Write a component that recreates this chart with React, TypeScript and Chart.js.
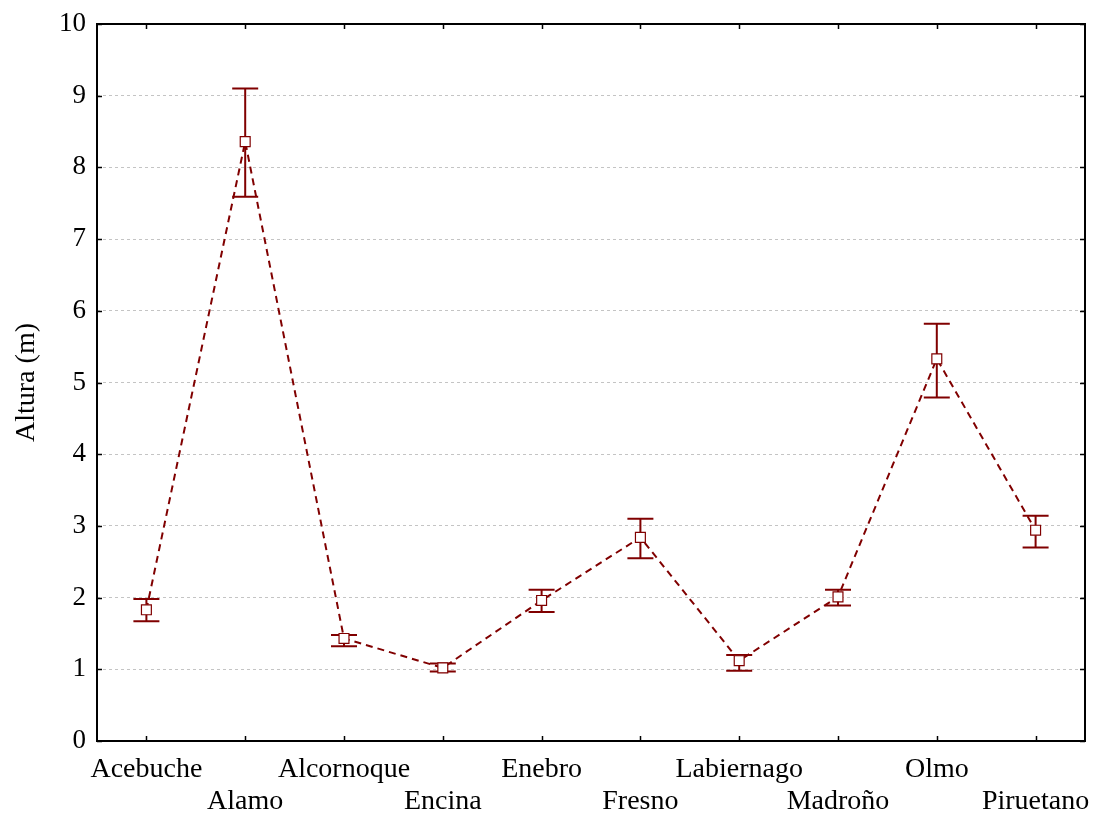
import React, { useEffect, useRef } from "react";
import { Chart, registerables } from "chart.js";

Chart.register(...registerables);

const categories = ["Acebuche", "Alamo", "Alcornoque", "Encina", "Enebro", "Fresno", "Labiernago", "Madroño", "Olmo", "Piruetano"];
const means = [1.83, 8.36, 1.43, 1.02, 1.96, 2.84, 1.12, 2.01, 5.33, 2.94];
const upper = [1.98, 9.10, 1.48, 1.08, 2.11, 3.10, 1.20, 2.11, 5.82, 3.14];
const lower = [1.67, 7.59, 1.32, 0.97, 1.80, 2.55, 0.98, 1.89, 4.79, 2.70];
const yTicks = [0, 1, 2, 3, 4, 5, 6, 7, 8, 9, 10];

const DARK_RED = "#800000";
const FONT = "'Liberation Serif', 'Times New Roman', serif";

const errorBarPlugin = {
  id: "errorBars",
  beforeDatasetsDraw(chart: any) {
    const { ctx, scales } = chart;
    const x = scales.x;
    const y = scales.y;
    ctx.save();
    ctx.strokeStyle = DARK_RED;
    ctx.lineWidth = 2;
    ctx.setLineDash([]);
    for (let i = 0; i < categories.length; i++) {
      const px = x.getPixelForValue(i);
      const pu = y.getPixelForValue(upper[i]);
      const pl = y.getPixelForValue(lower[i]);
      ctx.beginPath();
      ctx.moveTo(px, pu);
      ctx.lineTo(px, pl);
      ctx.moveTo(px - 13, pu);
      ctx.lineTo(px + 13, pu);
      ctx.moveTo(px - 13, pl);
      ctx.lineTo(px + 13, pl);
      ctx.stroke();
    }
    ctx.restore();
  },
};

const framePlugin = {
  id: "frame",
  afterDraw(chart: any) {
    const { ctx, chartArea, scales } = chart;
    const { left, right, top, bottom } = chartArea;
    ctx.save();
    ctx.strokeStyle = "#000";
    ctx.lineWidth = 2;
    ctx.setLineDash([]);
    ctx.strokeRect(left, top, right - left, bottom - top);
    ctx.lineWidth = 1.5;
    ctx.beginPath();
    for (let i = 0; i < categories.length; i++) {
      const px = Math.round(scales.x.getPixelForValue(i)) + 0.5;
      ctx.moveTo(px, bottom);
      ctx.lineTo(px, bottom - 5);
      ctx.moveTo(px, top);
      ctx.lineTo(px, top + 5);
    }
    for (const v of yTicks) {
      const py = Math.round(scales.y.getPixelForValue(v)) + 0.5;
      ctx.moveTo(right, py);
      ctx.lineTo(right - 5, py);
      ctx.moveTo(left, py);
      ctx.lineTo(left + 5, py);
    }
    ctx.stroke();
    ctx.restore();
  },
};

export default function App() {
  const ref = useRef<HTMLCanvasElement | null>(null);

  useEffect(() => {
    document.body.style.margin = "0";
    const canvas = ref.current;
    if (!canvas) return;
    const labels = categories.map((c, i) => (i % 2 === 0 ? [c, ""] : ["", c]));
    const chart = new Chart(canvas, {
      type: "line",
      data: {
        labels,
        datasets: [
          {
            data: means,
            borderColor: DARK_RED,
            borderWidth: 2,
            borderDash: [7, 5],
            tension: 0,
            fill: false,
            pointStyle: "rect",
            pointRadius: 7,
            pointHoverRadius: 7,
            pointBackgroundColor: "#fff",
            pointBorderColor: DARK_RED,
            pointBorderWidth: 1.2,
          },
        ],
      },
      options: {
        animation: false,
        responsive: false,
        maintainAspectRatio: false,
        layout: { padding: { top: 24, right: 9, left: 0, bottom: 0 } },
        plugins: {
          legend: { display: false },
          tooltip: { enabled: false },
        },
        scales: {
          x: {
            type: "category",
            offset: true,
            grid: { display: false, drawTicks: false },
            border: { display: false },
            ticks: {
              color: "#000",
              font: { family: FONT, size: 28, lineHeight: 1.13 },
              padding: 13,
              maxRotation: 0,
              minRotation: 0,
              autoSkip: false,
            },
            afterFit: (s: any) => {
              s.height = 75;
              s.paddingLeft = 0;
              s.paddingRight = 0;
            },
          },
          y: {
            type: "linear",
            min: 0,
            max: 10,
            grid: { color: "#c4c4c4", lineWidth: 1, drawTicks: false },
            border: { display: false, dash: [3, 3] },
            ticks: {
              stepSize: 1,
              color: "#000",
              font: { family: FONT, size: 27 },
              padding: 11,
            },
            title: {
              display: true,
              text: "Altura (m)",
              color: "#000",
              font: { family: FONT, size: 28, lineHeight: 1.2 },
              padding: { top: 10, bottom: 0 },
            },
            afterFit: (s: any) => {
              s.width = 97;
              s.paddingTop = 0;
              s.paddingBottom = 0;
            },
          },
        },
      },
      plugins: [errorBarPlugin, framePlugin],
    });
    return () => chart.destroy();
  }, []);

  return (
    <div style={{ position: "fixed", left: 0, top: 0, width: 1094, height: 816, background: "#fff" }}>
      <canvas ref={ref} width={1094} height={816} style={{ width: 1094, height: 816, display: "block" }} />
    </div>
  );
}
